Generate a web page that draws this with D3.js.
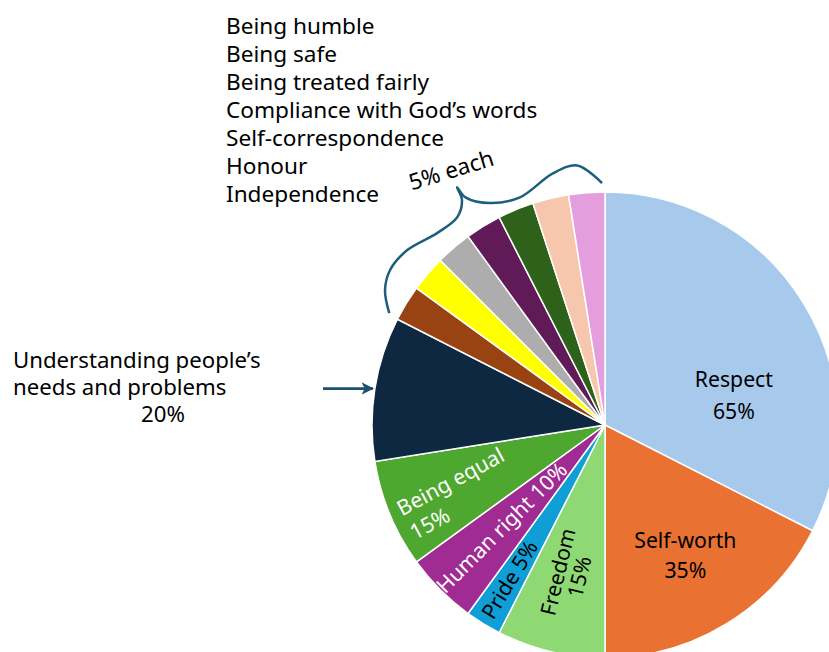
<!DOCTYPE html>
<html>
<head>
<meta charset="utf-8">
<script src="https://cdn.jsdelivr.net/npm/d3@7"></script>
<style>
  body { margin: 0; background: #fff; }
  svg { display: block; font-family: "Noto Sans", Lato, sans-serif; }
</style>
</head>
<body>
<svg width="829" height="652"></svg>
<script>
// slice order runs clockwise from 12 o'clock
const categories = ["Respect", "Self-worth", "Freedom", "Pride", "Human right", "Being equal",
    "Understanding people’s needs and problems",
    "Being humble", "Being safe", "Being treated fairly", "Compliance with God’s words",
    "Self-correspondence", "Honour", "Independence"];
const values = [65, 35, 15, 5, 10, 15, 20, 5, 5, 5, 5, 5, 5, 5];
const colors = ["#A6C9EC", "#E97132", "#8ED973", "#0F9ED5", "#A02B93", "#4EA72E", "#0E2841",
    "#984311", "#FFFF00", "#ADADAD", "#5F1A57", "#2E6119", "#F6C6AD", "#E59EDD"];
const smallGroup = [7, 8, 9, 10, 11, 12, 13];   // the "5% each" slices
const listLabels = categories.slice(7);

const svg = d3.select("svg");
const cx = 605, cy = 425, R = 233;

const pie = d3.pie().sort(null).value(d => d)(values);
const arc = d3.arc().innerRadius(0).outerRadius(R);
const deg = Math.PI / 180;

// polar helper: angle measured clockwise from 12 o'clock
function polar(a, r) {
    return [cx + r * Math.sin(a), cy - r * Math.cos(a)];
}

const g = svg.append("g").attr("transform", `translate(${cx},${cy})`);
g.selectAll("path")
    .data(pie)
    .enter().append("path")
    .attr("d", arc)
    .attr("fill", (d, i) => colors[i])
    .attr("stroke", "#fff")
    .attr("stroke-width", 1.5);

// labels inside the slices
const inside = [
    {i: 0, lines: 2, fill: "#000", rf: 0.567, angle: 77.3, rotate: false},
    {i: 1, lines: 2, fill: "#000", rf: 0.66, rotate: false, lh: 30},
    {i: 2, lines: 2, fill: "#000", rf: 0.66, rotate: true, lh: 22},
    {i: 3, lines: 1, fill: "#000", rf: 0.78, rotate: true},
    {i: 4, lines: 1, fill: "#fff", rf: 0.625, rotate: true},
    {i: 5, lines: 2, fill: "#fff", rf: 0.70, angle: 245, rotate: true, tilt: -6, align: "left", lh: 27}
];

inside.forEach(l => {
    const d = pie[l.i];
    const mid = l.angle !== undefined ? l.angle * deg : (d.startAngle + d.endAngle) / 2;
    const [x, y] = polar(mid, R * l.rf);
    const sliceMid = (d.startAngle + d.endAngle) / 2;
    const rot = l.rotate ? (sliceMid / deg - 270) + (l.tilt || 0) : 0;
    const txt = l.lines === 2
        ? [categories[l.i], values[l.i] + "%"]
        : [categories[l.i] + " " + values[l.i] + "%"];
    const lh = l.lh || 32;
    const lg = svg.append("g").attr("transform", `translate(${x},${y}) rotate(${rot})`);
    const t = lg.append("text")
        .attr("fill", l.fill)
        .attr("font-size", 21.2)
        .attr("text-anchor", l.align === "left" ? "start" : "middle");
    txt.forEach((s, k) => {
        t.append("tspan")
            .attr("x", 0)
            .attr("y", (k - (txt.length - 1) / 2) * lh + 7)
            .text(s);
    });
    if (l.align === "left") {
        const w = t.node().getBBox().width;
        t.attr("transform", `translate(${-w / 2},0)`);
    }
});

// Understanding label with arrow
const und = pie[6];
const tip = polar((und.startAngle + und.endAngle) / 2, R);
const arrowColor = "#1A5270";
svg.append("defs").append("marker")
    .attr("id", "head")
    .attr("viewBox", "0 0 10 10")
    .attr("refX", 9).attr("refY", 5)
    .attr("markerWidth", 4.5).attr("markerHeight", 4.5)
    .attr("orient", "auto")
    .append("path")
    .attr("d", "M0,0 L10,5 L0,10 L2.5,5 Z")
    .attr("fill", arrowColor);
svg.append("line")
    .attr("x1", 323).attr("y1", tip[1])
    .attr("x2", tip[0] - 2).attr("y2", tip[1])
    .attr("stroke", arrowColor)
    .attr("stroke-width", 2.8)
    .attr("marker-end", "url(#head)");

const undText = svg.append("text").attr("font-size", 22.2).attr("fill", "#000");
undText.append("tspan").attr("x", 13).attr("y", 368).text("Understanding people’s");
undText.append("tspan").attr("x", 13).attr("y", 395).text("needs and problems");
undText.append("tspan").attr("x", 163).attr("y", 422).attr("text-anchor", "middle").text(values[6] + "%");

// list of the small categories
svg.append("g").selectAll("text")
    .data(listLabels)
    .enter().append("text")
    .attr("x", 226)
    .attr("y", (d, k) => 34 + k * 28)
    .attr("font-size", 22.6)
    .attr("fill", "#000")
    .text(d => d);

// curly brace over the small slices
const a0 = pie[smallGroup[0]].startAngle;
const a1 = pie[smallGroup[smallGroup.length - 1]].endAngle;
const am = (a0 + a1) / 2;
const braceShape = [
    [-31.1, 10], [-27, 25], [-22.7, 32], [-17, 31], [-9.7, 22], [-3.9, 22],
    [-0.9, 34], [-0.4, 47], [0, 34], [4.1, 17], [11, 10], [19.8, 24], [25.4, 28], [30.8, 9]
];
const bracePts = braceShape.map(([da, dr]) => polar(am + da * deg, R + dr));
svg.append("path")
    .attr("d", d3.line().curve(d3.curveCatmullRom.alpha(0.5))(bracePts))
    .attr("fill", "none")
    .attr("stroke", "#1D5E7E")
    .attr("stroke-width", 2.5);

const eachPos = polar(am, R + 57);
svg.append("text")
    .attr("transform", `translate(${eachPos[0]},${eachPos[1]}) rotate(-17)`)
    .attr("text-anchor", "middle")
    .attr("font-size", 22.5)
    .attr("fill", "#000")
    .text(values[smallGroup[0]] + "% each");
</script>
</body>
</html>
